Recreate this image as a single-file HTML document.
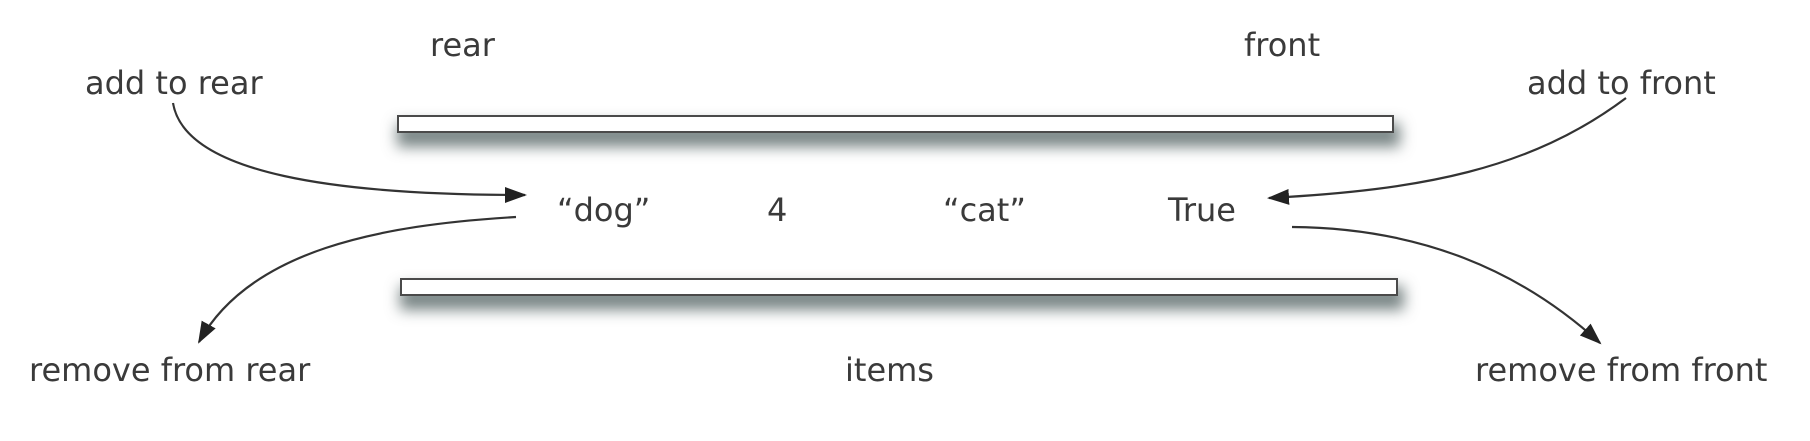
<!DOCTYPE html>
<html><head><meta charset="utf-8"><style>
html,body{margin:0;padding:0;background:#fff;}
#c{position:relative;width:1810px;height:441px;overflow:hidden;font-family:"DejaVu Sans","Liberation Sans",sans-serif;color:#3a3a3a;}
.t{position:absolute;font-size:32px;line-height:1;white-space:nowrap;}
.bar{position:absolute;background:#fff;border:2px solid #4a4a4a;box-sizing:border-box;box-shadow:3px 11px 14px 3px rgba(90,105,105,0.8);}
svg{position:absolute;left:0;top:0;}
</style></head><body><div id="c">
<div class="bar" style="left:397px;top:115px;width:997px;height:18px;"></div>
<div class="bar" style="left:400px;top:278px;width:998px;height:18px;"></div>
<div class="t" style="left:430px;top:29px;">rear</div>
<div class="t" style="left:1244px;top:29px;">front</div>
<div class="t" style="left:85px;top:67px;">add to rear</div>
<div class="t" style="left:1527px;top:67px;">add to front</div>
<div class="t" style="left:557px;top:194px;">“dog”</div>
<div class="t" style="left:767px;top:194px;">4</div>
<div class="t" style="left:943px;top:194px;">“cat”</div>
<div class="t" style="left:1168px;top:194px;">True</div>
<div class="t" style="left:29px;top:354px;">remove from rear</div>
<div class="t" style="left:845px;top:354px;">items</div>
<div class="t" style="left:1475px;top:354px;">remove from front</div>
<svg width="1810" height="441" viewBox="0 0 1810 441">
<defs>
<marker id="b" markerWidth="22" markerHeight="16" refX="20" refY="8" orient="auto" markerUnits="userSpaceOnUse"><path d="M0,0 L22,8 L0,16 Z" fill="#222"/></marker></defs>
<g fill="none" stroke="#333" stroke-width="2.2">
<path d="M173,103 C185,175 340,195 525,195" marker-end="url(#b)"/>
<path d="M516,217 C380,225 250,250 199,342" marker-end="url(#b)"/>
<path d="M1626,98 C1530,170 1420,190 1269,198" marker-end="url(#b)"/>
<path d="M1292,227 C1420,228 1520,270 1600,343" marker-end="url(#b)"/>
</g></svg>
</div></body></html>
